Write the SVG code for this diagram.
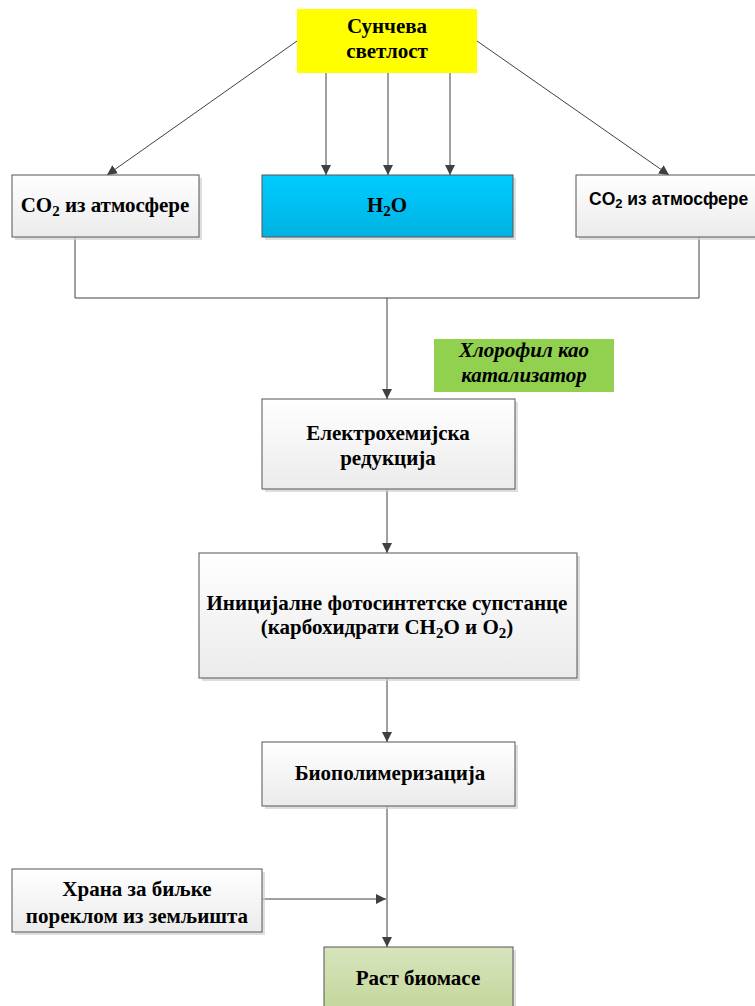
<svg xmlns="http://www.w3.org/2000/svg" width="755" height="1006" viewBox="0 0 755 1006">
<defs>
<linearGradient id="gw" x1="0" y1="0" x2="0" y2="1"><stop offset="0" stop-color="#ffffff"/><stop offset="1" stop-color="#ebebeb"/></linearGradient>
<linearGradient id="gb" x1="0" y1="0" x2="0" y2="1"><stop offset="0" stop-color="#00ccff"/><stop offset="1" stop-color="#00b2e2"/></linearGradient>
<linearGradient id="gg" x1="0" y1="0" x2="0" y2="1"><stop offset="0" stop-color="#d7e4bd"/><stop offset="1" stop-color="#c4d79b"/></linearGradient>
<marker id="ah" viewBox="0 0 10 10" refX="10" refY="5" markerWidth="10" markerHeight="10" markerUnits="userSpaceOnUse" orient="auto"><path d="M0,0 L10,5 L0,10 z" fill="#404040"/></marker>
<style>
.box{stroke:#555;stroke-width:1;fill:url(#gw)}
.sh{fill:#d0d0d0;opacity:0.7}
.t{font-family:"Liberation Serif","Times New Roman",serif;font-weight:bold;font-size:21px;fill:#000;text-anchor:middle}
.c{stroke:#404040;stroke-width:1;fill:none}
</style>
</defs>
<g id="connectors">
<line class="c" x1="297" y1="41" x2="107" y2="175" marker-end="url(#ah)"/>
<line class="c" x1="477" y1="41" x2="669" y2="175" marker-end="url(#ah)"/>
<line class="c" x1="326" y1="73" x2="326" y2="175" marker-end="url(#ah)"/>
<line class="c" x1="388" y1="73" x2="388" y2="175" marker-end="url(#ah)"/>
<line class="c" x1="450" y1="73" x2="450" y2="175" marker-end="url(#ah)"/>
<polyline class="c" points="75,237 75,298 699,298 699,237"/>
<line class="c" x1="387" y1="298" x2="387" y2="399" marker-end="url(#ah)"/>
<line class="c" x1="387" y1="489" x2="387" y2="553" marker-end="url(#ah)"/>
<line class="c" x1="387" y1="678" x2="387" y2="742" marker-end="url(#ah)"/>
<line class="c" x1="387" y1="806" x2="387" y2="947" marker-end="url(#ah)"/>
<line class="c" x1="262" y1="899" x2="386" y2="899" marker-end="url(#ah)"/>
</g>
<g id="sun">
<rect x="297" y="9" width="180" height="64" fill="#ffff00"/>
<text class="t" x="387" y="33">Сунчева</text>
<text class="t" x="387" y="58">светлост</text>
</g>
<g id="co2-left">
<rect class="sh" x="15" y="178" width="187" height="62"/>
<rect class="box" x="12" y="175" width="187" height="62"/>
<text class="t" x="105" y="212">CO<tspan font-size="15" dy="4">2</tspan><tspan dy="-4"> из атмосфере</tspan></text>
</g>
<g id="h2o">
<rect class="sh" x="265" y="178" width="251" height="62"/>
<rect x="262" y="175" width="251" height="62" fill="url(#gb)" stroke="#555"/>
<text class="t" x="387" y="212">H<tspan font-size="15" dy="4">2</tspan><tspan dy="-4">O</tspan></text>
</g>
<g id="co2-right">
<rect class="sh" x="579" y="178" width="180" height="62"/>
<rect class="box" x="576" y="175" width="185" height="62"/>
<text x="589" y="205" font-family="Liberation Sans, Arial, sans-serif" font-weight="bold" font-size="17.5">CO<tspan font-size="13" dy="3">2</tspan><tspan dy="-3"> из атмосфере</tspan></text>
</g>
<g id="chlorophyll">
<rect x="434" y="339" width="180" height="53" fill="#92d050"/>
<text class="t" x="524" y="357" font-style="italic">Хлорофил као</text>
<text class="t" x="524" y="382" font-style="italic">катализатор</text>
</g>
<g id="reduction">
<rect class="sh" x="265" y="402" width="253" height="90"/>
<rect class="box" x="262" y="399" width="253" height="90"/>
<text class="t" x="388" y="440">Електрохемијска</text>
<text class="t" x="388" y="465">редукција</text>
</g>
<g id="initial">
<rect class="sh" x="202" y="556" width="378" height="125"/>
<rect class="box" x="199" y="553" width="378" height="125"/>
<text class="t" x="387" y="610">Иницијалне фотосинтетске супстанце</text>
<text class="t" x="387" y="634">(карбохидрати CH<tspan font-size="15" dy="4">2</tspan><tspan dy="-4">O и O</tspan><tspan font-size="15" dy="4">2</tspan><tspan dy="-4">)</tspan></text>
</g>
<g id="biopolymer">
<rect class="sh" x="265" y="745" width="253" height="64"/>
<rect class="box" x="262" y="742" width="253" height="64"/>
<text class="t" x="390" y="780">Биополимеризација</text>
</g>
<g id="food">
<rect class="sh" x="15" y="872" width="250" height="63"/>
<rect class="box" x="12" y="869" width="250" height="63"/>
<text class="t" x="137" y="896">Храна за биљке</text>
<text class="t" x="137" y="923">пореклом из земљишта</text>
</g>
<g id="biomass">
<rect class="sh" x="327" y="950" width="189" height="62"/>
<rect x="324" y="947" width="189" height="62" fill="url(#gg)" stroke="#555"/>
<text class="t" x="418" y="985">Раст биомасе</text>
</g>
</svg>
